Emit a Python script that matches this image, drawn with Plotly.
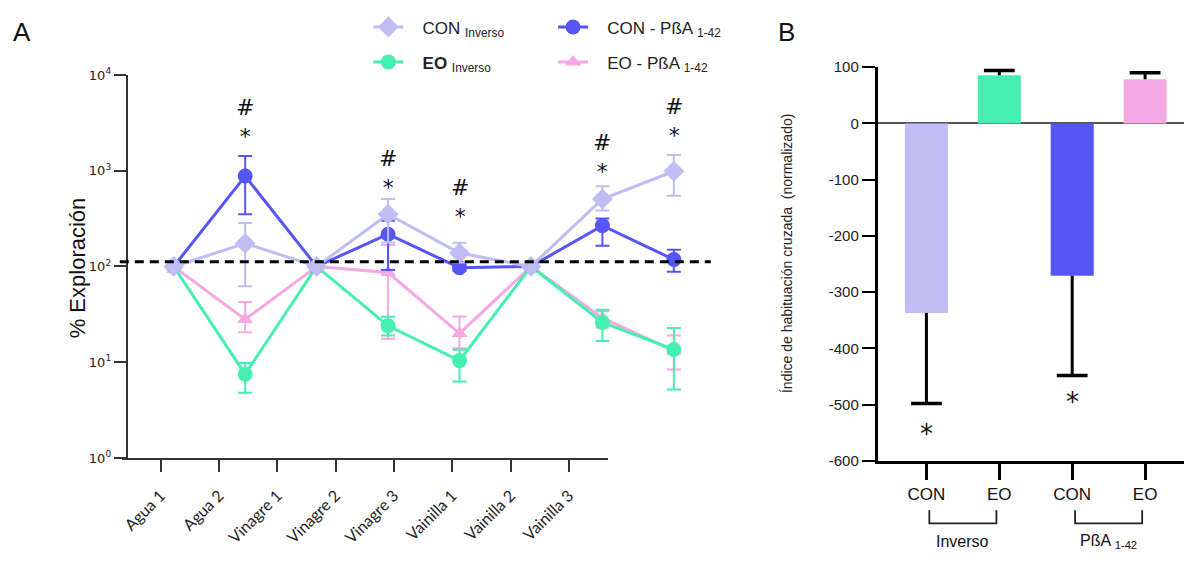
import numpy as np
import plotly.graph_objects as go

W, H = 1184, 561

# ---------------- Panel A data ----------------
categories = ["Agua 1", "Agua 2", "Vinagre 1", "Vinagre 2", "Vinagre 3",
              "Vainilla 1", "Vainilla 2", "Vainilla 3"]

con_inv = [100, 174, 100, 351, 138, 100, 506, 987]
con_inv_hi = [104, 284, 104, 506, 177, 104, 689, 1455]
con_inv_lo = [96, 62, 96, 178, 110, 96, 385, 546]

con_pba = [100, 879, 100, 217, 97, 100, 267, 118]
con_pba_hi = [104, 1420, 104, 300, 105, 104, 317, 149]
con_pba_lo = [96, 351, 96, 92, 90, 96, 165, 88]

eo_inv = [100, 7.5, 100, 24, 10.4, 100, 26, 13.6]
eo_inv_hi = [104, 9.8, 104, 29.9, 13.5, 104, 35.4, 22.7]
eo_inv_lo = [96, 4.8, 96, 19, 6.3, 96, 16.7, 5.2]

eo_pba = [100, 28, 100, 86.5, 20, 100, 29, 13.1]
eo_pba_hi = [112, 42.6, 112, 168, 30, 110, 34, 19]
eo_pba_lo = [88, 20.6, 88, 17.6, 14, 90, 23, 8.4]

baseline = 112

sig_x = ["Agua 2", "Vinagre 2", "Vinagre 3", "Vainilla 2", "Vainilla 3"]
sig_hash_y = [4217, 1197, 596, 1754, 4121]
sig_star_y = [2466, 735, 365, 1125, 2649]

ytick_vals = [1, 10, 100, 1000, 10000]
ytick_text = ["10<sup>0</sup>", "10<sup>1</sup>", "10<sup>2</sup>", "10<sup>3</sup>", "10<sup>4</sup>"]

# ---------------- Panel B data ----------------
b_labels = ["CON", "EO", "CON", "EO"]
b_groups = ["Inverso", "PßA <sub>1-42</sub>"]
b_mean = [-337, 85.6, -271, 78.7]
b_sem = [161, 8.4, 177, 11.4]
b_star_y = [-539, -483]
b_ticks = [100, 0, -100, -200, -300, -400, -500, -600]

C_LAV = "#BEBEF5"
C_GRN = "#45F0AE"
C_BLU = "#5656F8"
C_PNK = "#F5A8E4"

fig = go.Figure()


def add_series(y, hi, lo, color, symbol, size, name, legend):
    plus = [h - v for h, v in zip(hi, y)]
    minus = [v - l for v, l in zip(y, lo)]
    fig.add_trace(go.Scatter(
        x=categories, y=y, mode="lines+markers", name=name, legend=legend,
        line=dict(color=color, width=3),
        marker=dict(color=color, symbol=symbol, size=size),
        error_y=dict(type="data", symmetric=False, array=plus, arrayminus=minus,
                     color=color, thickness=2, width=7),
        xaxis="x", yaxis="y", hoverinfo="skip"))


sp = "\u00a0\u00a0\u00a0"
add_series(eo_pba, eo_pba_hi, eo_pba_lo, C_PNK, "triangle-up", 14,
           sp + "EO - PßA <sub>1-42</sub>", "legend4")
add_series(eo_inv, eo_inv_hi, eo_inv_lo, C_GRN, "circle", 15,
           sp + "<b>EO</b> <sub>Inverso</sub>", "legend2")
add_series(con_pba, con_pba_hi, con_pba_lo, C_BLU, "circle", 15,
           sp + "CON - PßA <sub>1-42</sub>", "legend3")
add_series(con_inv, con_inv_hi, con_inv_lo, C_LAV, "diamond", 16,
           sp + "CON <sub>Inverso</sub>", "legend")

# dummy trace so the label axis is drawn
fig.add_trace(go.Scatter(x=list(range(len(categories))), y=[1] * len(categories),
                         mode="markers", marker=dict(opacity=0), showlegend=False,
                         xaxis="x2", yaxis="y", hoverinfo="skip"))

# ---------------- Panel B traces ----------------
bx = list(range(len(b_labels)))
fig.add_trace(go.Bar(x=bx, y=b_mean, width=0.59,
                     marker=dict(color=[C_LAV, C_GRN, C_BLU, C_PNK], line=dict(width=0)),
                     showlegend=False, xaxis="x3", yaxis="y3", hoverinfo="skip"))

stem_x, stem_y, cap_x, cap_y = [], [], [], []
for i, (m, s) in enumerate(zip(b_mean, b_sem)):
    end = m + s if m > 0 else m - s
    stem_x += [i, i, None]
    stem_y += [m, end, None]
    cap_x.append(i)
    cap_y.append(end)
fig.add_trace(go.Scatter(x=stem_x, y=stem_y, mode="lines", line=dict(color="black", width=3),
                         showlegend=False, xaxis="x3", yaxis="y3", hoverinfo="skip"))
fig.add_trace(go.Scatter(x=cap_x, y=cap_y, mode="markers",
                         marker=dict(symbol="line-ew", size=22, color="black",
                                     line=dict(color="black", width=3.5)),
                         showlegend=False, xaxis="x3", yaxis="y3", hoverinfo="skip"))

# ---------------- Layout ----------------
def px_x(p):
    return p / W


def px_y(p):
    return (H - p) / H


axA_line = "#333333"
fig.update_layout(
    width=W, height=H, margin=dict(l=0, r=0, t=0, b=0),
    paper_bgcolor="white", plot_bgcolor="rgba(0,0,0,0)",
    font=dict(family="Liberation Sans, Arial, sans-serif", color="#222"),
    xaxis=dict(domain=[px_x(118), px_x(710)], type="category", categoryarray=categories,
               range=[-0.7545, 7.517], visible=False, anchor="y"),
    xaxis2=dict(domain=[px_x(120), px_x(607)], type="linear", range=[-0.668, 7.671],
                tickmode="array", tickvals=list(range(len(categories))), ticktext=categories,
                showline=True, linecolor=axA_line, linewidth=2, ticks="outside",
                ticklen=12, tickwidth=1.5, tickcolor=axA_line, tickangle=-45,
                ticklabelstandoff=8,
                tickfont=dict(family="Lato, Carlito, sans-serif", size=16, color="#222"),
                showgrid=False, zeroline=False, anchor="y"),
    yaxis=dict(type="log", range=[0, 4], domain=[px_y(463), px_y(68)],
               anchor="free", position=px_x(125),
               tickmode="array", tickvals=ytick_vals, ticktext=ytick_text,
               showline=True, linecolor=axA_line, linewidth=2, ticks="outside",
               ticklen=12, tickwidth=1.5, tickcolor=axA_line,
               tickfont=dict(family="DejaVu Sans", size=13, color="#222"),
               showgrid=False, zeroline=False),
    xaxis3=dict(domain=[px_x(877), 1.0], type="linear", range=[-0.671, 3.534],
                tickmode="array", tickvals=bx, ticktext=b_labels,
                showline=True, linecolor="black", linewidth=2.5, ticks="outside",
                ticklen=16, tickwidth=2.5, tickcolor="black",
                tickfont=dict(size=17, color="#111"),
                showgrid=False, zeroline=False, anchor="y3"),
    yaxis3=dict(domain=[px_y(466), px_y(60)], range=[-600, 100], anchor="x3",
                tickmode="array", tickvals=b_ticks, ticktext=[str(t) for t in b_ticks],
                showline=True, linecolor="black", linewidth=2.5, ticks="outside",
                ticklen=13, tickwidth=2, tickcolor="black",
                tickfont=dict(size=15, color="#222"),
                showgrid=False, zeroline=True, zerolinecolor="#555", zerolinewidth=1.5),
    showlegend=True,
)

leg_common = dict(xanchor="left", yanchor="middle", bgcolor="rgba(0,0,0,0)",
                  font=dict(size=17, color="#222", family="Liberation Sans, Arial"),
                  itemclick=False, itemdoubleclick=False)
fig.update_layout(
    legend=dict(x=px_x(367), y=px_y(19), **leg_common),
    legend2=dict(x=px_x(367), y=px_y(55), **leg_common),
    legend3=dict(x=px_x(552), y=px_y(19), **leg_common),
    legend4=dict(x=px_x(552), y=px_y(55), **leg_common),
)

# dashed reference line
fig.add_shape(type="line", xref="x domain", x0=0, x1=1, yref="y",
              y0=baseline, y1=baseline,
              line=dict(color="black", width=3, dash="9px,6px"))

ann = []
for xc, yh, ys in zip(sig_x, sig_hash_y, sig_star_y):
    ymid = (np.log10(yh) + np.log10(ys)) / 2
    ann.append(dict(x=xc, y=ymid, xref="x", yref="y", text="#<br>*", showarrow=False,
                    font=dict(family="DejaVu Sans", size=22, color="#111"), yanchor="middle",
                    yshift=0))

for i, ys in zip([0, 2], b_star_y):
    ann.append(dict(x=i, y=ys, xref="x3", yref="y3", text="*", showarrow=False,
                    font=dict(family="DejaVu Sans", size=26, color="#111"), yanchor="middle",
                    yshift=-7))

# group brackets in B
for g, name in enumerate(b_groups):
    i0, i1 = 2 * g, 2 * g + 1
    fig.add_shape(type="path", xref="x3", yref="paper",
                  path=f"M {i0 + 0.04},{px_y(517)} L {i0 + 0.04},{px_y(530.5)} "
                       f"L {i1 - 0.04},{px_y(530.5)} L {i1 - 0.04},{px_y(517)}",
                  line=dict(color="#222", width=1.8))
    ann.append(dict(x=(i0 + i1) / 2, y=px_y(549), xref="x3", yref="paper", text=name,
                    showarrow=False, font=dict(size=16, color="#111"), yanchor="middle"))

ann += [
    dict(x=px_x(9), y=px_y(24), xref="paper", yref="paper", text="A", showarrow=False,
         xanchor="left", yanchor="middle", font=dict(size=26, color="#111")),
    dict(x=px_x(775), y=px_y(24), xref="paper", yref="paper", text="B", showarrow=False,
         xanchor="left", yanchor="middle", font=dict(size=26, color="#111")),
    dict(x=px_x(62), y=px_y(267), xref="paper", yref="paper", text="% Exploración",
         showarrow=False, textangle=-90, font=dict(size=22, color="#111")),
    dict(x=px_x(797), y=px_y(252), xref="paper", yref="paper",
         text="Índice de habituación cruzada  (normalizado)",
         showarrow=False, textangle=-90, font=dict(size=14, color="#222")),
]
fig.update_layout(annotations=ann)

fig.write_html("out.html")
